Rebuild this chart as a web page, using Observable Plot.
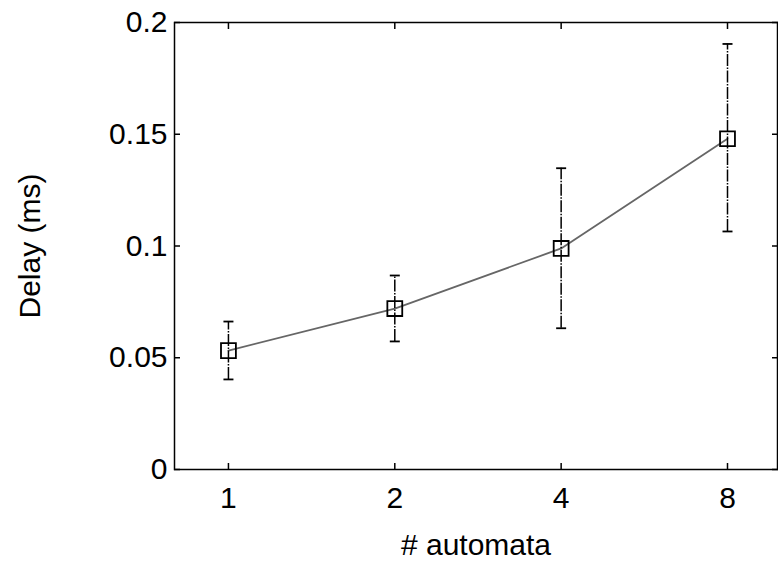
<!DOCTYPE html>
<html>
<head>
<meta charset="utf-8">
<script src="https://cdn.jsdelivr.net/npm/d3@7"></script>
<script src="https://cdn.jsdelivr.net/npm/@observablehq/plot@0.6"></script>
<style>
  html, body { margin: 0; padding: 0; background: #fff; }
</style>
</head>
<body>
<div id="chart"></div>
<script>
const automata = [1, 2, 4, 8];
const delay = [0.0532, 0.0720, 0.0989, 0.1480];
const delayLow = [0.0403, 0.0573, 0.0632, 0.1065];
const delayHigh = [0.0662, 0.0868, 0.1348, 0.1904];
const yTicks = [0, 0.05, 0.1, 0.15, 0.2];
const xLabel = "# automata";
const yLabel = "Delay (ms)";

const data = automata.map((n, i) => ({n, y: delay[i], lo: delayLow[i], hi: delayHigh[i]}));

const capSymbol = {
  draw(context, size) {
    context.moveTo(-5, 0);
    context.lineTo(5, 0);
  }
};

const font = "Liberation Sans, Arial, Helvetica, sans-serif";
const fs = 30;
const yFmt = d3.format("~g");

const chart = Plot.plot({
  width: 778,
  height: 562,
  marginLeft: 174,
  marginRight: 1,
  marginTop: 22,
  marginBottom: 93,
  style: {fontFamily: font, fontSize: fs + "px", background: "#fff", color: "#000"},
  x: {type: "log", base: 2, domain: [0.7987, 9.853], ticks: automata, tickFormat: d => String(d)},
  y: {domain: [0, 0.2], ticks: yTicks, tickFormat: yFmt},
  marks: [
    Plot.frame({stroke: "#000", strokeWidth: 1.5}),
    // labels
    Plot.axisX({anchor: "bottom", ticks: automata, tickSize: 0, tickPadding: 17, tickFormat: d => String(d), fontSize: fs, label: null}),
    Plot.axisY({anchor: "left", ticks: yTicks, tickSize: 0, tickPadding: 7, tickFormat: yFmt, fontSize: fs, label: null}),
    // inward ticks
    Plot.axisX({anchor: "bottom", ticks: automata, tickSize: 6, dy: -6, tickFormat: () => "", label: null, strokeWidth: 1.5}),
    Plot.axisX({anchor: "top", ticks: automata, tickSize: 6, dy: 6, tickFormat: () => "", label: null, strokeWidth: 1.5}),
    Plot.axisY({anchor: "left", ticks: yTicks, tickSize: 6, dx: 6, tickFormat: () => "", label: null, strokeWidth: 1.5}),
    Plot.axisY({anchor: "right", ticks: yTicks, tickSize: 6, dx: -6, tickFormat: () => "", label: null, strokeWidth: 1.5}),
    // series line
    Plot.line(data, {x: "n", y: "y", stroke: "#666", strokeWidth: 1.8}),
    // error bars
    Plot.ruleX(data, {x: "n", y1: "lo", y2: "hi", stroke: "#000", strokeWidth: 1.5, strokeDasharray: "12,1.5,1.5,1.5"}),
    Plot.dot(data, {x: "n", y: "lo", symbol: capSymbol, stroke: "#000", strokeWidth: 1.8}),
    Plot.dot(data, {x: "n", y: "hi", symbol: capSymbol, stroke: "#000", strokeWidth: 1.8}),
    // boxes
    Plot.dot(data, {x: "n", y: "y", symbol: "square", r: 8.4, fill: "none", stroke: "#000", strokeWidth: 1.8}),
    // axis titles
    Plot.text([xLabel], {frameAnchor: "bottom", dy: 76, text: d => d, fontSize: fs, textAnchor: "middle", lineAnchor: "middle", fill: "#000"}),
    Plot.text([yLabel], {frameAnchor: "left", dx: -144, rotate: -90, text: d => d, fontSize: fs, textAnchor: "middle", lineAnchor: "middle", fill: "#000"})
  ]
});
document.getElementById("chart").appendChild(chart);
</script>
</body>
</html>
